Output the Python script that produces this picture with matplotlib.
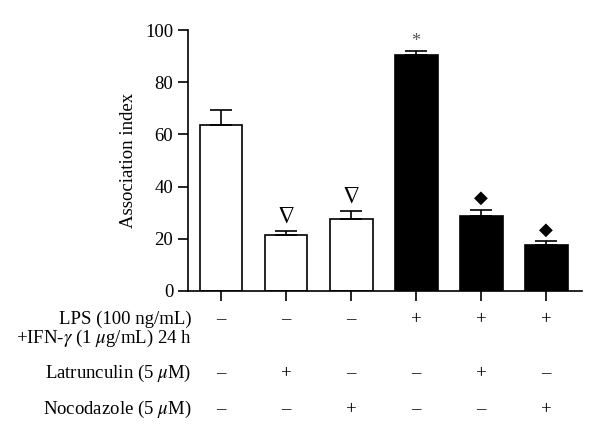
import numpy as np
import matplotlib.pyplot as plt

plt.rcParams['font.family'] = ['Liberation Serif', 'DejaVu Serif']
plt.rcParams['mathtext.fontset'] = 'stix'

# Data
means = [63.5, 21.5, 27.5, 90.5, 28.7, 17.7]
errors = [6.0, 1.3, 3.0, 1.5, 2.3, 1.3]
colors = ['white', 'white', 'white', 'black', 'black', 'black']
marks = ['', 'nabla', 'nabla', '*', 'diamond', 'diamond']
lps = ['–', '–', '–', '+', '+', '+']
latrunculin = ['–', '+', '–', '–', '+', '–']
nocodazole = ['–', '–', '+', '–', '–', '+']

x = np.arange(len(means))
fs = 13.5

fig = plt.figure(figsize=(6, 4.36), dpi=100)
ax = fig.add_axes([0.313, 0.333, 0.657, 0.598])

# upward-only error bars
ax.bar(x, means, width=0.66, color=colors, edgecolor='black', linewidth=1.2,
       yerr=[np.zeros(len(errors)), errors],
       error_kw=dict(ecolor='black', elinewidth=1.2, capsize=8, capthick=1.2),
       zorder=2)
for xi, m, e, s in zip(x, means, errors, marks):
    if s == '*':
        ax.text(xi, m + e + 3.5, s, ha='center', va='center', fontsize=13, color='#555555')
    elif s == 'nabla':
        ax.text(xi, m + e + 5.5, r'$\nabla$', ha='center', va='center', fontsize=17)
    elif s == 'diamond':
        ax.text(xi, m + e + 4.5, '◆', ha='center', va='center', fontsize=13,
                family=['DejaVu Sans'])

ax.set_xlim(-0.51, 5.55)
ax.set_ylim(0, 100)
ax.set_yticks([0, 20, 40, 60, 80, 100])
ax.set_xticks(x)
ax.set_xticklabels([])
ax.tick_params(axis='both', direction='out', length=7, width=1.2, labelsize=fs)
for s in ['top', 'right']:
    ax.spines[s].set_visible(False)
for s in ['left', 'bottom']:
    ax.spines[s].set_linewidth(1.2)
ax.set_ylabel('Association index', fontsize=fs, labelpad=6)

# treatment table below the axis
tr = ax.get_xaxis_transform()
rows = [(lps, -0.111), (latrunculin, -0.318), (nocodazole, -0.456)]
for vals, yy in rows:
    for xi, v in zip(x, vals):
        ax.text(xi, yy, v, transform=tr, ha='center', va='center', fontsize=fs)

lx = -0.45
ax.text(lx, -0.111, 'LPS (100 ng/mL)', transform=tr, ha='right', va='center', fontsize=fs)
ax.text(lx, -0.184, r'+IFN-$\gamma$ (1 $\mu$g/mL) 24 h', transform=tr, ha='right',
        va='center', fontsize=fs)
ax.text(lx, -0.318, r'Latrunculin (5 $\mu$M)', transform=tr, ha='right', va='center', fontsize=fs)
ax.text(lx, -0.456, r'Nocodazole (5 $\mu$M)', transform=tr, ha='right', va='center', fontsize=fs)

fig.savefig('out.png', dpi=100)
